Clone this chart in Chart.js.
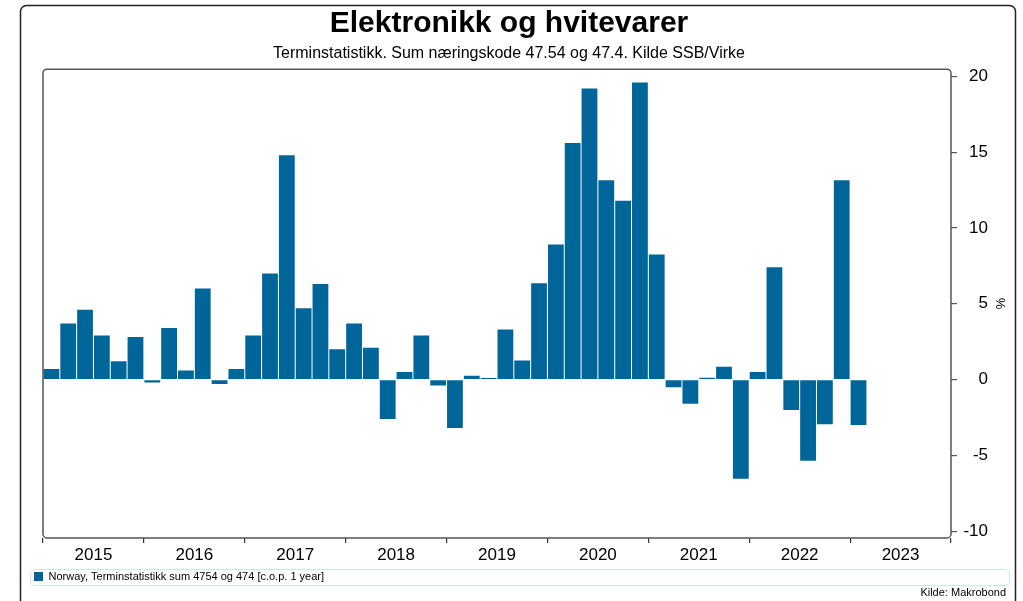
<!DOCTYPE html>
<html>
<head>
<meta charset="utf-8">
<script src="https://cdn.jsdelivr.net/npm/chart.js@4/dist/chart.umd.min.js"></script>
<style>
  html, body { margin: 0; padding: 0; background: #fff; }
  #wrap { width: 1023px; height: 601px; }
</style>
</head>
<body>
<div id="wrap"><canvas id="chart"></canvas></div>
<script>
Chart.defaults.font.family = "'Liberation Sans', Arial, sans-serif"
Chart.defaults.color = '#000'

// year tick labels and bimonthly periods
const years = ['2015', '2016', '2017', '2018', '2019', '2020', '2021', '2022', '2023']
const periods = ['jan', 'mar', 'mai', 'jul', 'sep', 'nov']

// % change, same period last year
const v2015 = [0.7, 3.7, 4.6, 2.9, 1.2, 2.8]
const v2016 = [-0.2, 3.4, 0.6, 6.0, -0.3, 0.7]
const v2017 = [2.9, 7.0, 14.8, 4.7, 6.3, 2.0]
const v2018 = [3.7, 2.1, -2.6, 0.5, 2.9, -0.4]
const v2019 = [-3.2, 0.25, 0.1, 3.3, 1.25, 6.35]
const v2020 = [8.9, 15.6, 19.2, 13.15, 11.8, 19.6]
const v2021 = [8.25, -0.5, -1.6, 0.12, 0.85, -6.55]
const v2022 = [0.5, 7.4, -2.0, -5.35, -2.95, 13.15]
const v2023 = [-3.0, null, null, null, null, null]

const seriesName = 'Norway, Terminstatistikk sum 4754 og 474 [c.o.p. 1 year]'

const labels = years.flatMap(y => periods.map(p => p + ' ' + y))
const values = [].concat(v2015, v2016, v2017, v2018, v2019, v2020, v2021, v2022, v2023)

const barColor = '#006699'

// outer frame, plot box, legend box and source line
const frames = {
    id: 'frames',
    afterDraw(chart) {
        const { ctx, chartArea: a } = chart
        ctx.save()
        ctx.strokeStyle = '#222'
        ctx.lineWidth = 1.5
        ctx.beginPath()
        ctx.roundRect(20.5, 5.5, 995, 640, 6)
        ctx.stroke()

        ctx.strokeStyle = '#555'
        ctx.lineWidth = 1.5
        ctx.beginPath()
        ctx.roundRect(a.left, a.top, a.width, a.height, 4)
        ctx.stroke()

        const lg = chart.legend
        if (lg && lg.legendHitBoxes.length) {
            const hb = lg.legendHitBoxes[0]
            const cy = hb.top + hb.height / 2
            ctx.strokeStyle = '#cfe4ef'
            ctx.lineWidth = 1
            ctx.beginPath()
            ctx.roundRect(30.5, Math.round(cy - 8) + 0.5, 979, 16, 4)
            ctx.stroke()
        }

        ctx.fillStyle = '#000'
        ctx.font = "11px 'Liberation Sans', Arial, sans-serif"
        ctx.textAlign = 'right'
        ctx.textBaseline = 'middle'
        ctx.fillText('Kilde: Makrobond', 1006, 593)
        ctx.restore()
    }
}

new Chart('chart', {
    type: 'bar',
    data: {
        labels,
        datasets: [{
            label: seriesName,
            data: values,
            backgroundColor: barColor,
            borderWidth: 0,
            barPercentage: 0.94,
            categoryPercentage: 1,
            xAxisID: 'x',
            yAxisID: 'y'
        }]
    },
    options: {
        responsive: true,
        maintainAspectRatio: false,
        animation: false,
        layout: { padding: { left: 30, right: 35, top: 0, bottom: 9 } },
        plugins: {
            title: {
                display: true,
                text: 'Elektronikk og hvitevarer',
                font: { size: 30, weight: 'bold' },
                padding: { top: 6, bottom: 0 }
            },
            subtitle: {
                display: true,
                text: 'Terminstatistikk. Sum næringskode 47.54 og 47.4. Kilde SSB/Virke',
                font: { size: 16 },
                padding: { top: 2, bottom: 6 }
            },
            legend: {
                position: 'bottom',
                align: 'start',
                labels: {
                    boxWidth: 9,
                    boxHeight: 9,
                    padding: 4,
                    font: { size: 11 },
                    color: '#000'
                }
            },
            tooltip: { enabled: false }
        },
        scales: {
            x: { display: false, offset: true },
            years: {
                type: 'category',
                labels: years,
                position: 'bottom',
                offset: true,
                grid: { offset: true, drawOnChartArea: false, tickLength: 5, color: '#333', lineWidth: 1.2 },
                border: { display: false },
                ticks: { font: { size: 17 }, padding: 2, maxRotation: 0, autoSkip: false },
                afterFit: s => { s.height = 29 }
            },
            yl: {
                type: 'linear',
                position: 'left',
                display: true,
                grid: { display: false },
                border: { display: false },
                ticks: { display: false },
                afterFit: s => { s.width = 13 }
            },
            y: {
                position: 'right',
                min: -10.45,
                max: 20.47,
                ticks: { stepSize: 5, includeBounds: false, crossAlign: 'far', padding: 8, font: { size: 17 } },
                grid: { drawOnChartArea: false, tickLength: 6, color: '#555', lineWidth: 1.2 },
                border: { display: false },
                title: { display: true, text: '%', font: { size: 13 }, padding: { top: -19, bottom: 0 } },
                afterFit: s => { s.width = 37 }
            }
        }
    },
    plugins: [frames]
})
</script>
</body>
</html>
